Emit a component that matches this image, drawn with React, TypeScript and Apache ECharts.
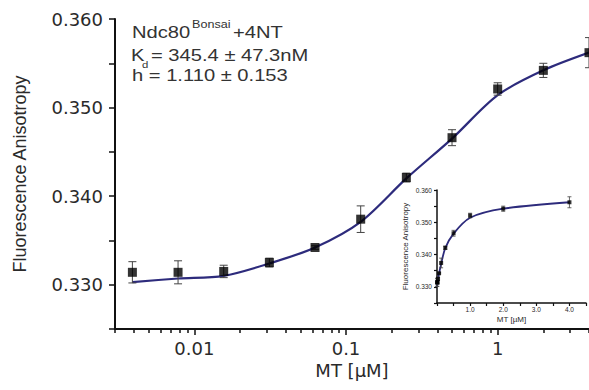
import React, { useEffect, useRef } from 'react';
import * as echarts from 'echarts';

// MT concentration (µM), 2-fold dilution series
const concentrations = [0.00390625, 0.0078125, 0.015625, 0.03125, 0.0625, 0.125, 0.25, 0.5, 1, 2, 4];
// Measured fluorescence anisotropy (mean)
const anisotropy = [0.3314, 0.3314, 0.3315, 0.3325, 0.3342, 0.3374, 0.3421, 0.3466, 0.3521, 0.3542, 0.3562];
// Error bar half-widths
const errors = [0.0012, 0.0013, 0.0007, 0.0005, 0.0002, 0.0015, 0.0005, 0.0009, 0.0007, 0.0008, 0.0017];
// Fitted curve values read at each concentration
const fitCurve = [0.3303, 0.3307, 0.331, 0.3324, 0.3342, 0.3371, 0.342, 0.3465, 0.3514, 0.3542, 0.3562];

// Log-axis tick positions
const xMajorTicks = [0.01, 0.1, 1];
const xMinorTicks = [
  0.003, 0.004, 0.005, 0.006, 0.007, 0.008, 0.009,
  0.02, 0.03, 0.04, 0.05, 0.06, 0.07, 0.08, 0.09,
  0.2, 0.3, 0.4, 0.5, 0.6, 0.7, 0.8, 0.9,
  2, 3, 4,
];

const Y_MIN = 0.325;
const Y_MAX = 0.36;
const LINE_COLOR = '#2d2b7c';
const TEXT_COLOR = '#2a2a2a';

export default function App() {
  const ref = useRef<HTMLDivElement>(null);

  useEffect(() => {
    document.body.style.margin = '0';
    const chart = echarts.init(ref.current!, null, { renderer: 'svg' });

    const points = concentrations.map((c, i) => [c, anisotropy[i]]);
    const curve = concentrations.map((c, i) => [c, fitCurve[i]]);
    const bars = concentrations.map((c, i) => [c, anisotropy[i] - errors[i], anisotropy[i] + errors[i]]);

    const yLabel = (v: number) => (Math.round(v * 1000) % 10 === 0 ? v.toFixed(3) : '');

    const errRender = (cap: number, lw: number) => (params: any, api: any) => {
      const x = api.value(0);
      const lo = api.coord([x, api.value(1)]);
      const hi = api.coord([x, api.value(2)]);
      const style = { stroke: '#444', lineWidth: lw };
      return {
        type: 'group',
        children: [
          { type: 'line', shape: { x1: lo[0], y1: lo[1], x2: hi[0], y2: hi[1] }, style },
          { type: 'line', shape: { x1: lo[0] - cap, y1: lo[1], x2: lo[0] + cap, y2: lo[1] }, style },
          { type: 'line', shape: { x1: hi[0] - cap, y1: hi[1], x2: hi[0] + cap, y2: hi[1] }, style },
        ],
      };
    };

    const annFont = 'Liberation Sans, Arial, sans-serif';
    const sx = 1.26;
    const txt = (text: string, x: number, y: number, size: number) => ({
      type: 'text',
      x,
      y,
      scaleX: sx,
      style: {
        text,
        fontSize: size,
        fontFamily: annFont,
        fill: '#333',
        textAlign: 'left',
        textVerticalAlign: 'middle',
      },
    });

    const option: any = {
      animation: false,
      grid: [
        { left: 115, top: 19, right: 0, bottom: 61 },
        { left: 437, top: 190, right: 0, bottom: 87 },
      ],
      xAxis: [
        {
          type: 'log',
          gridIndex: 0,
          logBase: 10,
          min: 0.003,
          max: 4,
          name: 'MT [µM]',
          nameLocation: 'middle',
          nameGap: 30,
          nameTextStyle: { fontSize: 18, fontFamily: 'DejaVu Sans', color: TEXT_COLOR },
          axisLine: { lineStyle: { color: '#111', width: 2 } },
          axisTick: { show: true, length: 6, customValues: xMajorTicks, lineStyle: { color: '#111', width: 1.5 } },
          splitLine: { show: false },
          axisLabel: {
            margin: 10,
            fontSize: 18,
            fontFamily: 'DejaVu Sans',
            color: TEXT_COLOR,
            customValues: xMajorTicks,
            formatter: (v: number) => String(+v.toPrecision(6)),
          },
        },
        {
          type: 'value',
          gridIndex: 1,
          min: 0,
          max: 4.5,
          interval: 0.5,
          name: 'MT [µM]',
          nameLocation: 'middle',
          nameGap: 12,
          nameTextStyle: { fontSize: 8, fontFamily: 'Liberation Sans', color: TEXT_COLOR },
          axisLine: { lineStyle: { color: '#111', width: 1.5 } },
          axisTick: { length: 3, lineStyle: { color: '#111', width: 1.2 } },
          splitLine: { show: false },
          axisLabel: {
            margin: 3,
            fontSize: 6.5,
            fontFamily: 'Liberation Sans',
            color: TEXT_COLOR,
            formatter: (v: number) => (v > 0 && Math.abs(v - Math.round(v)) < 1e-9 ? v.toFixed(1) : ''),
          },
        },
        {
          type: 'log',
          gridIndex: 0,
          logBase: 10,
          min: 0.003,
          max: 4,
          position: 'bottom',
          axisLine: { show: false },
          axisTick: { show: true, length: 4, customValues: xMinorTicks, lineStyle: { color: '#111', width: 1.5 } },
          axisLabel: { show: false },
          splitLine: { show: false },
        },
      ],
      yAxis: [
        {
          type: 'value',
          gridIndex: 0,
          min: Y_MIN,
          max: Y_MAX,
          interval: 0.005,
          name: 'Fluorescence Anisotropy',
          nameLocation: 'middle',
          nameGap: 86,
          nameTextStyle: { fontSize: 18, fontFamily: 'Liberation Sans', color: TEXT_COLOR },
          axisLine: { show: true, lineStyle: { color: '#111', width: 2 } },
          axisTick: { show: true, length: 6, lineStyle: { color: '#111', width: 1.5 } },
          splitLine: { show: false },
          axisLabel: {
            margin: 12,
            fontSize: 18,
            fontFamily: 'DejaVu Sans',
            color: TEXT_COLOR,
            formatter: yLabel,
          },
        },
        {
          type: 'value',
          gridIndex: 1,
          min: Y_MIN,
          max: Y_MAX,
          interval: 0.005,
          name: 'Fluorescence Anisotropy',
          nameLocation: 'middle',
          nameGap: 28,
          nameTextStyle: { fontSize: 8, fontFamily: 'Liberation Sans', color: TEXT_COLOR },
          axisLine: { show: true, lineStyle: { color: '#111', width: 1.5 } },
          axisTick: { show: true, length: 3, lineStyle: { color: '#111', width: 1.2 } },
          splitLine: { show: false },
          axisLabel: {
            margin: 5,
            fontSize: 6.5,
            fontFamily: 'Liberation Sans',
            color: TEXT_COLOR,
            formatter: yLabel,
          },
        },
      ],
      series: [
        {
          type: 'line',
          xAxisIndex: 0,
          yAxisIndex: 0,
          data: curve,
          smooth: 0.3,
          showSymbol: false,
          lineStyle: { color: LINE_COLOR, width: 2.2 },
          z: 2,
        },
        {
          type: 'custom',
          xAxisIndex: 0,
          yAxisIndex: 0,
          data: bars,
          encode: { x: 0, y: [1, 2] },
          renderItem: errRender(4, 1),
          z: 3,
        },
        {
          type: 'scatter',
          xAxisIndex: 0,
          yAxisIndex: 0,
          data: points,
          symbol: 'rect',
          symbolSize: 9,
          itemStyle: { color: '#000' },
          z: 4,
        },
        {
          type: 'line',
          xAxisIndex: 1,
          yAxisIndex: 1,
          data: curve,
          smooth: 0.3,
          showSymbol: false,
          lineStyle: { color: LINE_COLOR, width: 1.8 },
          z: 2,
        },
        {
          type: 'custom',
          xAxisIndex: 1,
          yAxisIndex: 1,
          data: bars,
          encode: { x: 0, y: [1, 2] },
          renderItem: errRender(2, 0.8),
          z: 3,
        },
        {
          type: 'scatter',
          xAxisIndex: 1,
          yAxisIndex: 1,
          data: points,
          symbol: 'rect',
          symbolSize: 4,
          itemStyle: { color: '#000' },
          z: 4,
        },
      ],
      graphic: [
        txt('Ndc80', 132, 33, 16),
        txt('Bonsai', 192, 24, 10),
        txt('+4NT', 233, 33, 16),
        txt('K', 131, 56, 16),
        txt('d', 142, 65, 9),
        txt('= 345.4 ± 47.3nM', 151, 56, 16),
        txt('h = 1.110 ± 0.153', 132, 76, 16),
      ],
    };

    chart.setOption(option);
    return () => chart.dispose();
  }, []);

  return <div ref={ref} style={{ width: 589, height: 390 }} />;
}
